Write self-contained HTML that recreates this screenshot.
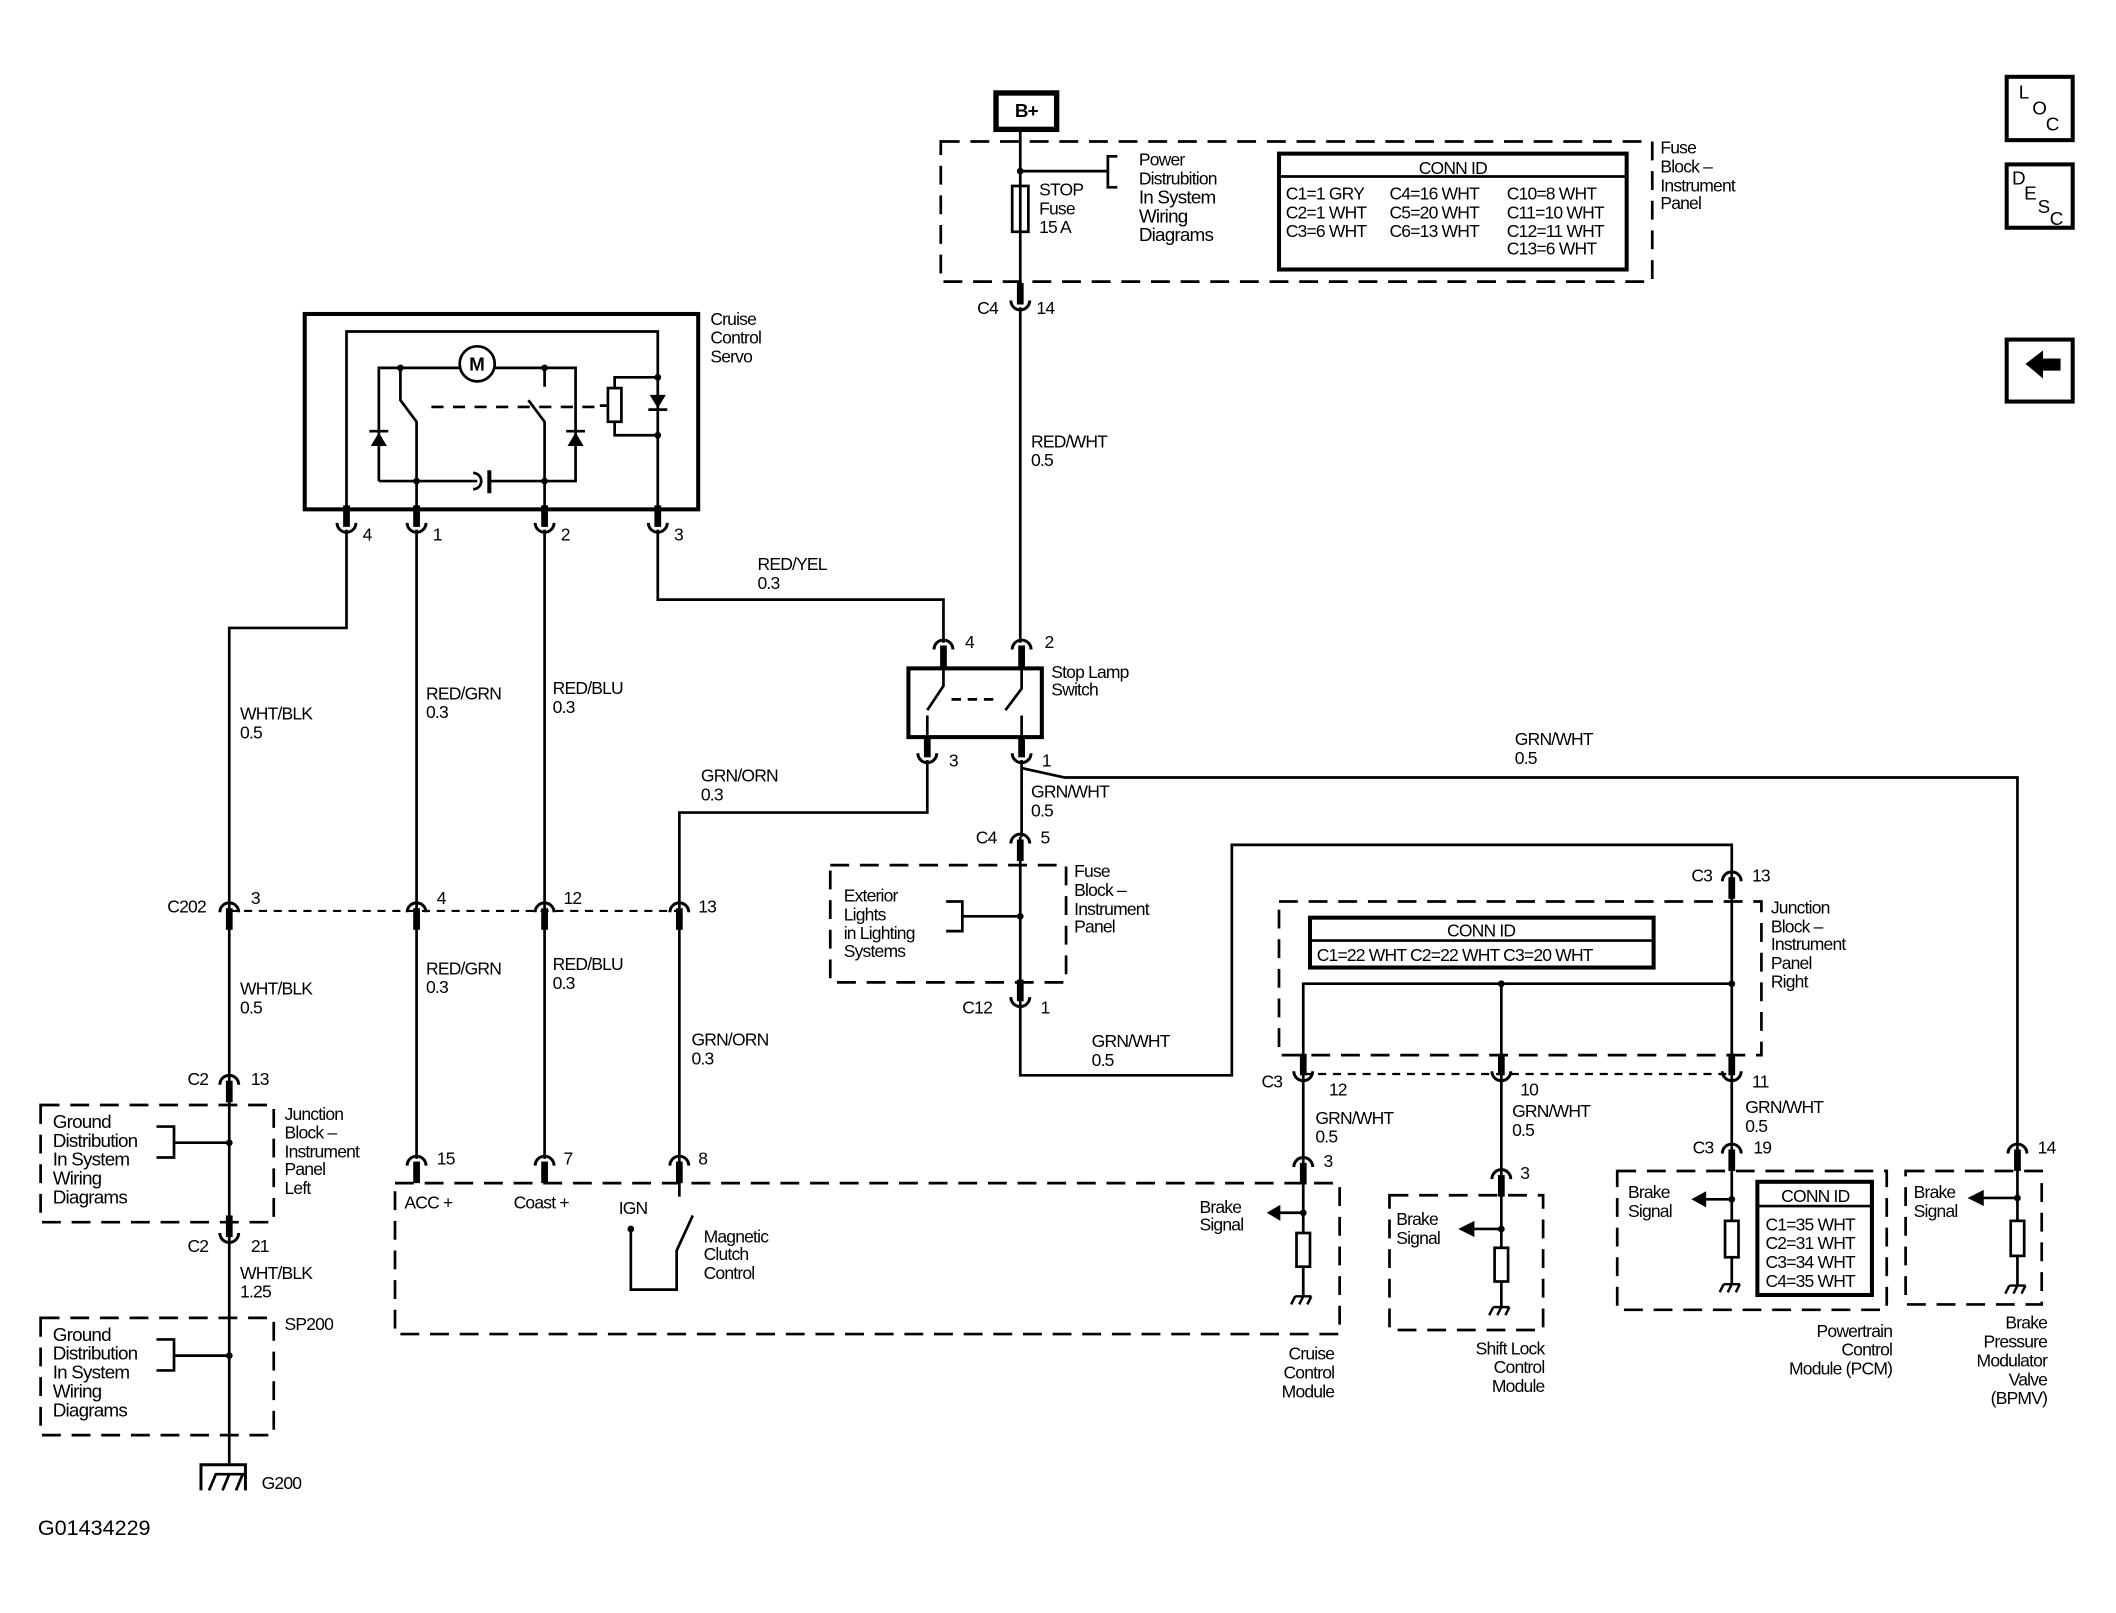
<!DOCTYPE html>
<html><head><meta charset="utf-8"><style>
html,body{margin:0;padding:0;background:#fff;}
svg{display:block;}
text{font-family:"Liberation Sans",Arial,sans-serif;font-size:13px;letter-spacing:-0.6px;fill:#000;}
.b{font-size:14px;}
</style></head><body>
<svg width="2116" height="1613" viewBox="0 0 1570 1197" xmlns="http://www.w3.org/2000/svg">
<defs>
<g id="cu"><path d="M-7,-5 A7,7 0 0 0 7,-5" fill="none" stroke="#000" stroke-width="2.2"/><rect x="-2.5" y="-18" width="5" height="16"/></g>
<g id="cd"><path d="M-7,5 A7,7 0 0 1 7,5" fill="none" stroke="#000" stroke-width="2.2"/><rect x="-2.5" y="2" width="5" height="16"/></g>
<g id="gnd"><path d="M-6,0 H6 M-6,0 l-3,6 M0,0 l-3,6 M6,0 l-3,6" stroke="#000" stroke-width="1.8" fill="none"/></g>
</defs>
<g fill="none" stroke="#000" stroke-width="2">
<!-- B+ and fuse block -->
<rect x="739" y="69" width="45" height="27" stroke-width="4"/>
<path d="M757,96 V222"/>
<rect x="698" y="105" width="528" height="104" stroke-dasharray="14,8"/>
<path d="M757,127 H822 M829,116 H822 V139 H829"/>
<rect x="751" y="138" width="12" height="34"/>
<rect x="949" y="114" width="258" height="86" stroke-width="3"/>
<path d="M949,131 H1207"/>
<!-- servo -->
<rect x="226" y="233" width="292" height="145" stroke-width="3"/>
<path d="M257,378 V246 H488 V378"/>
<path d="M281,357 V273 H341 M367,273 H427 V357 H364 M354,357 H281"/>
<path d="M297,273 V297 L309,313 V378"/>
<path d="M404,273 V287 M392,297 L404,313 V378"/>
<path d="M320,302 H445" stroke-dasharray="9,7"/>
<path d="M488,280 H456 V323 H488 M445,301 H451"/>
<rect x="451" y="288" width="10" height="25" fill="#fff"/>
<path d="M351,351 A6,6 0 0 1 351,363" />
<path d="M363,349 V366" stroke-width="3"/>
</g>
<circle cx="354" cy="270" r="13" fill="#fff" stroke="#000" stroke-width="2"/>
<text x="348" y="275" class="b" font-weight="bold">M</text>
<g>
<path d="M275,331 L281,321 L287,331 Z M274,320 H288"/>
<path d="M421,331 L427,321 L433,331 Z M420,320 H434"/>
<path d="M482,293 L488,303 L494,293 Z M481,304 H495"/>
<path d="M274,320 H288 M420,320 H434 M481,304 H495" stroke="#000" stroke-width="2"/>
<circle cx="297" cy="273" r="2.5"/><circle cx="404" cy="273" r="2.5"/><circle cx="309" cy="357" r="2.5"/><circle cx="404" cy="357" r="2.5"/><circle cx="488" cy="280" r="2.5"/><circle cx="488" cy="323" r="2.5"/>
</g>
<g fill="none" stroke="#000" stroke-width="2">
<!-- servo wires -->
<path d="M257,393 V466 H170 V672"/>
<path d="M309,393 V860"/>
<path d="M404,393 V860"/>
<path d="M488,393 V445 H700 V477"/>
<path d="M757,228 V477"/>
<!-- stop lamp switch -->
<rect x="674" y="496" width="99" height="51" stroke-width="3"/>
<path d="M700,496 V509 L688,527 M688,531 V547 M758,496 V511 L746,527 M758,531 V547"/>
<path d="M706,519 H742" stroke-dasharray="7,5"/>
<path d="M688,564 V603 H504 V860"/>
<path d="M758,564 V621 M758,570 L790,577 H1497 V851"/>
<!-- fuse block 2 -->
<rect x="616" y="642" width="175" height="87" stroke-dasharray="14,8"/>
<path d="M757,621 V745 M757,680 H714 M702,669 H714 V691 H702"/>
<path d="M757,745 V798 H914 V627 H1285 V800"/>
<!-- JB right -->
<rect x="949" y="669" width="358" height="114" stroke-dasharray="14,8"/>
<rect x="972" y="681" width="255" height="37" stroke-width="3"/>
<path d="M972,698 H1227"/>
<path d="M967,800 V730 H1285 M1114,730 V800"/>
<path d="M967,797 H1285" stroke-dasharray="6,5" stroke-width="1.6"/>
<path d="M967,800 V861 M1114,800 V870 M1285,800 V851"/>
<!-- C202 -->
<path d="M170,676 H504" stroke-dasharray="6,5" stroke-width="1.6"/>
<path d="M170,672 V1086"/>
<!-- JB left -->
<rect x="30" y="820" width="173" height="87" stroke-dasharray="14,8"/>
<path d="M170,848 H129 M116,836 H129 V859 H116"/>
<rect x="30" y="978" width="173" height="87" stroke-dasharray="14,8"/>
<path d="M170,1006 H129 M116,994 H129 V1017 H116"/>
<path d="M149,1106 V1087 H182 V1106" stroke-width="2.2"/>
<path d="M155,1106 L160,1094 H182 M165,1106 L170,1094 M175,1106 L180,1094"/>
<!-- CCM -->
<rect x="293" y="878" width="701" height="112" stroke-dasharray="14,8"/>
<path d="M468,912 V957 H502 V928 L514,902 M504,860 V888"/>
<path d="M967,861 V915 M967,940 V962 M967,900 H948"/>
<rect x="962" y="915" width="10" height="25"/>
<!-- shift lock -->
<rect x="1031" y="887" width="114" height="100" stroke-dasharray="14,8"/>
<path d="M1114,870 V926 M1114,951 V970 M1114,912 H1092"/>
<rect x="1109" y="926" width="10" height="25"/>
<!-- PCM -->
<rect x="1200" y="869" width="200" height="103" stroke-dasharray="14,8"/>
<path d="M1285,851 V906 M1285,933 V953 M1285,890 H1264"/>
<rect x="1280" y="906" width="10" height="27"/>
<rect x="1304" y="877" width="85" height="84" stroke-width="3"/>
<path d="M1304,895 H1389"/>
<!-- BPMV -->
<rect x="1414" y="869" width="101" height="99" stroke-dasharray="14,8"/>
<path d="M1497,851 V906 M1497,932 V954 M1497,889 H1470"/>
<rect x="1492" y="906" width="10" height="26"/>
<!-- right icons -->
<rect x="1489" y="57" width="49" height="47" stroke-width="3"/>
<rect x="1489" y="122" width="49" height="47" stroke-width="3"/>
<rect x="1489" y="252" width="49" height="46" stroke-width="3"/>
</g>
<g>
<path d="M940,900 L950,894 V906 Z M1082,912 L1094,906 V918 Z M1255,890 L1266,884 V896 Z M1460,889 L1472,883 V895 Z"/>
<path d="M1503,270 L1516,260 V266 H1529 V275 H1516 V281 Z"/>
<circle cx="757" cy="127" r="2.5"/><circle cx="757" cy="680" r="2.5"/><circle cx="1285" cy="730" r="2.5"/><circle cx="1114" cy="730" r="2.5"/>
<circle cx="170" cy="848" r="2.5"/><circle cx="170" cy="1006" r="2.5"/><circle cx="468" cy="912" r="2.5"/>
<circle cx="967" cy="900" r="2.5"/><circle cx="1114" cy="912" r="2.5"/><circle cx="1285" cy="890" r="2.5"/><circle cx="1497" cy="889" r="2.5"/>
<use href="#gnd" x="967" y="962"/><use href="#gnd" x="1114" y="970"/><use href="#gnd" x="1285" y="953"/><use href="#gnd" x="1497" y="954"/>
<!-- connectors -->
<use href="#cu" x="757" y="228"/>
<use href="#cu" x="257" y="393"/><use href="#cu" x="309" y="393"/><use href="#cu" x="404" y="393"/><use href="#cu" x="488" y="393"/>
<use href="#cd" x="700" y="477"/><use href="#cd" x="758" y="477"/>
<use href="#cu" x="688" y="564"/><use href="#cu" x="758" y="564"/>
<use href="#cd" x="757" y="621"/><use href="#cu" x="757" y="745"/>
<use href="#cd" x="1285" y="649"/>
<use href="#cu" x="967" y="800"/><use href="#cu" x="1114" y="800"/><use href="#cu" x="1285" y="800"/>
<use href="#cd" x="967" y="861"/><use href="#cd" x="1114" y="870"/><use href="#cd" x="1285" y="851"/><use href="#cd" x="1497" y="851"/>
<use href="#cd" x="170" y="672"/><use href="#cd" x="309" y="672"/><use href="#cd" x="404" y="672"/><use href="#cd" x="504" y="672"/>
<use href="#cd" x="170" y="800"/><use href="#cu" x="170" y="920"/>
<use href="#cd" x="309" y="860"/><use href="#cd" x="404" y="860"/><use href="#cd" x="504" y="860"/>
</g>
<!-- text -->
<text x="753" y="87" class="b" font-weight="bold">B+</text>
<text x="845" y="123">Power</text><text x="845" y="137">Distrubition</text><text x="845" y="151" class="b">In System</text><text x="845" y="165" class="b">Wiring</text><text x="845" y="179" class="b">Diagrams</text>
<text x="771" y="145">STOP</text><text x="771" y="159">Fuse</text><text x="771" y="173">15 A</text>
<text x="1078" y="129" text-anchor="middle">CONN ID</text>
<text x="954" y="148">C1=1 GRY</text><text x="1031" y="148">C4=16 WHT</text><text x="1118" y="148">C10=8 WHT</text>
<text x="954" y="162">C2=1 WHT</text><text x="1031" y="162">C5=20 WHT</text><text x="1118" y="162">C11=10 WHT</text>
<text x="954" y="176">C3=6 WHT</text><text x="1031" y="176">C6=13 WHT</text><text x="1118" y="176">C12=11 WHT</text>
<text x="1118" y="189">C13=6 WHT</text>
<text x="1232" y="114">Fuse</text><text x="1232" y="128">Block –</text><text x="1232" y="142">Instrument</text><text x="1232" y="155">Panel</text>
<text x="725" y="233">C4</text><text x="769" y="233">14</text>
<text x="765" y="332">RED/WHT</text><text x="765" y="346">0.5</text>
<text x="527" y="241">Cruise</text><text x="527" y="255">Control</text><text x="527" y="269">Servo</text>
<text x="269" y="401">4</text><text x="321" y="401">1</text><text x="416" y="401">2</text><text x="500" y="401">3</text>
<text x="562" y="423">RED/YEL</text><text x="562" y="437">0.3</text>
<text x="716" y="481">4</text><text x="775" y="481">2</text>
<text x="780" y="503">Stop Lamp</text><text x="780" y="516">Switch</text>
<text x="704" y="569">3</text><text x="773" y="569">1</text>
<text x="1124" y="553">GRN/WHT</text><text x="1124" y="567">0.5</text>
<text x="765" y="592">GRN/WHT</text><text x="765" y="606">0.5</text>
<text x="178" y="534">WHT/BLK</text><text x="178" y="548">0.5</text>
<text x="316" y="519">RED/GRN</text><text x="316" y="533">0.3</text>
<text x="410" y="515">RED/BLU</text><text x="410" y="529">0.3</text>
<text x="520" y="580">GRN/ORN</text><text x="520" y="594">0.3</text>
<text x="724" y="626">C4</text><text x="772" y="626">5</text>
<text x="797" y="651">Fuse</text><text x="797" y="665">Block –</text><text x="797" y="679">Instrument</text><text x="797" y="692">Panel</text>
<text x="626" y="669">Exterior</text><text x="626" y="683">Lights</text><text x="626" y="697">in Lighting</text><text x="626" y="710">Systems</text>
<text x="714" y="752">C12</text><text x="772" y="752">1</text>
<text x="810" y="777">GRN/WHT</text><text x="810" y="791">0.5</text>
<text x="1255" y="654">C3</text><text x="1300" y="654">13</text>
<text x="1099" y="695" text-anchor="middle">CONN ID</text>
<text x="977" y="713">C1=22 WHT  C2=22 WHT  C3=20 WHT</text>
<text x="1314" y="678">Junction</text><text x="1314" y="692">Block –</text><text x="1314" y="705">Instrument</text><text x="1314" y="719">Panel</text><text x="1314" y="733">Right</text>
<text x="936" y="807">C3</text><text x="986" y="813">12</text><text x="1128" y="813">10</text><text x="1300" y="807">11</text>
<text x="976" y="834">GRN/WHT</text><text x="976" y="848">0.5</text>
<text x="1122" y="829">GRN/WHT</text><text x="1122" y="843">0.5</text>
<text x="1295" y="826">GRN/WHT</text><text x="1295" y="840">0.5</text>
<text x="1256" y="856">C3</text><text x="1301" y="856">19</text><text x="1512" y="856">14</text>
<text x="982" y="866">3</text><text x="1128" y="875">3</text>
<text x="124" y="677">C202</text><text x="186" y="671">3</text><text x="324" y="671">4</text><text x="418" y="671">12</text><text x="518" y="677">13</text>
<text x="178" y="738">WHT/BLK</text><text x="178" y="752">0.5</text>
<text x="316" y="723">RED/GRN</text><text x="316" y="737">0.3</text>
<text x="410" y="720">RED/BLU</text><text x="410" y="734">0.3</text>
<text x="513" y="776">GRN/ORN</text><text x="513" y="790">0.3</text>
<text x="139" y="805">C2</text><text x="186" y="805">13</text>
<text x="39" y="837" class="b">Ground</text><text x="39" y="851" class="b">Distribution</text><text x="39" y="865" class="b">In System</text><text x="39" y="879" class="b">Wiring</text><text x="39" y="893" class="b">Diagrams</text>
<text x="211" y="831">Junction</text><text x="211" y="845">Block –</text><text x="211" y="859">Instrument</text><text x="211" y="872">Panel</text><text x="211" y="886">Left</text>
<text x="139" y="929">C2</text><text x="186" y="929">21</text>
<text x="178" y="949">WHT/BLK</text><text x="178" y="963">1.25</text>
<text x="211" y="987">SP200</text>
<text x="39" y="995" class="b">Ground</text><text x="39" y="1009" class="b">Distribution</text><text x="39" y="1023" class="b">In System</text><text x="39" y="1037" class="b">Wiring</text><text x="39" y="1051" class="b">Diagrams</text>
<text x="194" y="1105">G200</text>
<text x="28" y="1139" style="font-size:16px;letter-spacing:0">G01434229</text>
<text x="324" y="864">15</text><text x="418" y="864">7</text><text x="518" y="864">8</text>
<text x="300" y="897">ACC +</text><text x="381" y="897">Coast +</text><text x="459" y="901">IGN</text>
<text x="522" y="922">Magnetic</text><text x="522" y="935">Clutch</text><text x="522" y="949">Control</text>
<text x="890" y="900">Brake</text><text x="890" y="913">Signal</text>
<text x="990" y="1009" text-anchor="end">Cruise</text><text x="990" y="1023" text-anchor="end">Control</text><text x="990" y="1037" text-anchor="end">Module</text>
<text x="1036" y="909">Brake</text><text x="1036" y="923">Signal</text>
<text x="1146" y="1005" text-anchor="end">Shift Lock</text><text x="1146" y="1019" text-anchor="end">Control</text><text x="1146" y="1033" text-anchor="end">Module</text>
<text x="1208" y="889">Brake</text><text x="1208" y="903">Signal</text>
<text x="1347" y="892" text-anchor="middle">CONN ID</text>
<text x="1310" y="913">C1=35 WHT</text><text x="1310" y="927">C2=31 WHT</text><text x="1310" y="941">C3=34 WHT</text><text x="1310" y="955">C4=35 WHT</text>
<text x="1404" y="992" text-anchor="end">Powertrain</text><text x="1404" y="1006" text-anchor="end">Control</text><text x="1404" y="1020" text-anchor="end">Module (PCM)</text>
<text x="1420" y="889">Brake</text><text x="1420" y="903">Signal</text>
<text x="1519" y="986" text-anchor="end">Brake</text><text x="1519" y="1000" text-anchor="end">Pressure</text><text x="1519" y="1014" text-anchor="end">Modulator</text><text x="1519" y="1028" text-anchor="end">Valve</text><text x="1519" y="1042" text-anchor="end">(BPMV)</text>
<text x="1498" y="73" class="b">L</text><text x="1508" y="85" class="b">O</text><text x="1518" y="97" class="b">C</text>
<text x="1493" y="137" class="b">D</text><text x="1502" y="148" class="b">E</text><text x="1512" y="158" class="b">S</text><text x="1521" y="167" class="b">C</text>
</svg>
</body></html>
